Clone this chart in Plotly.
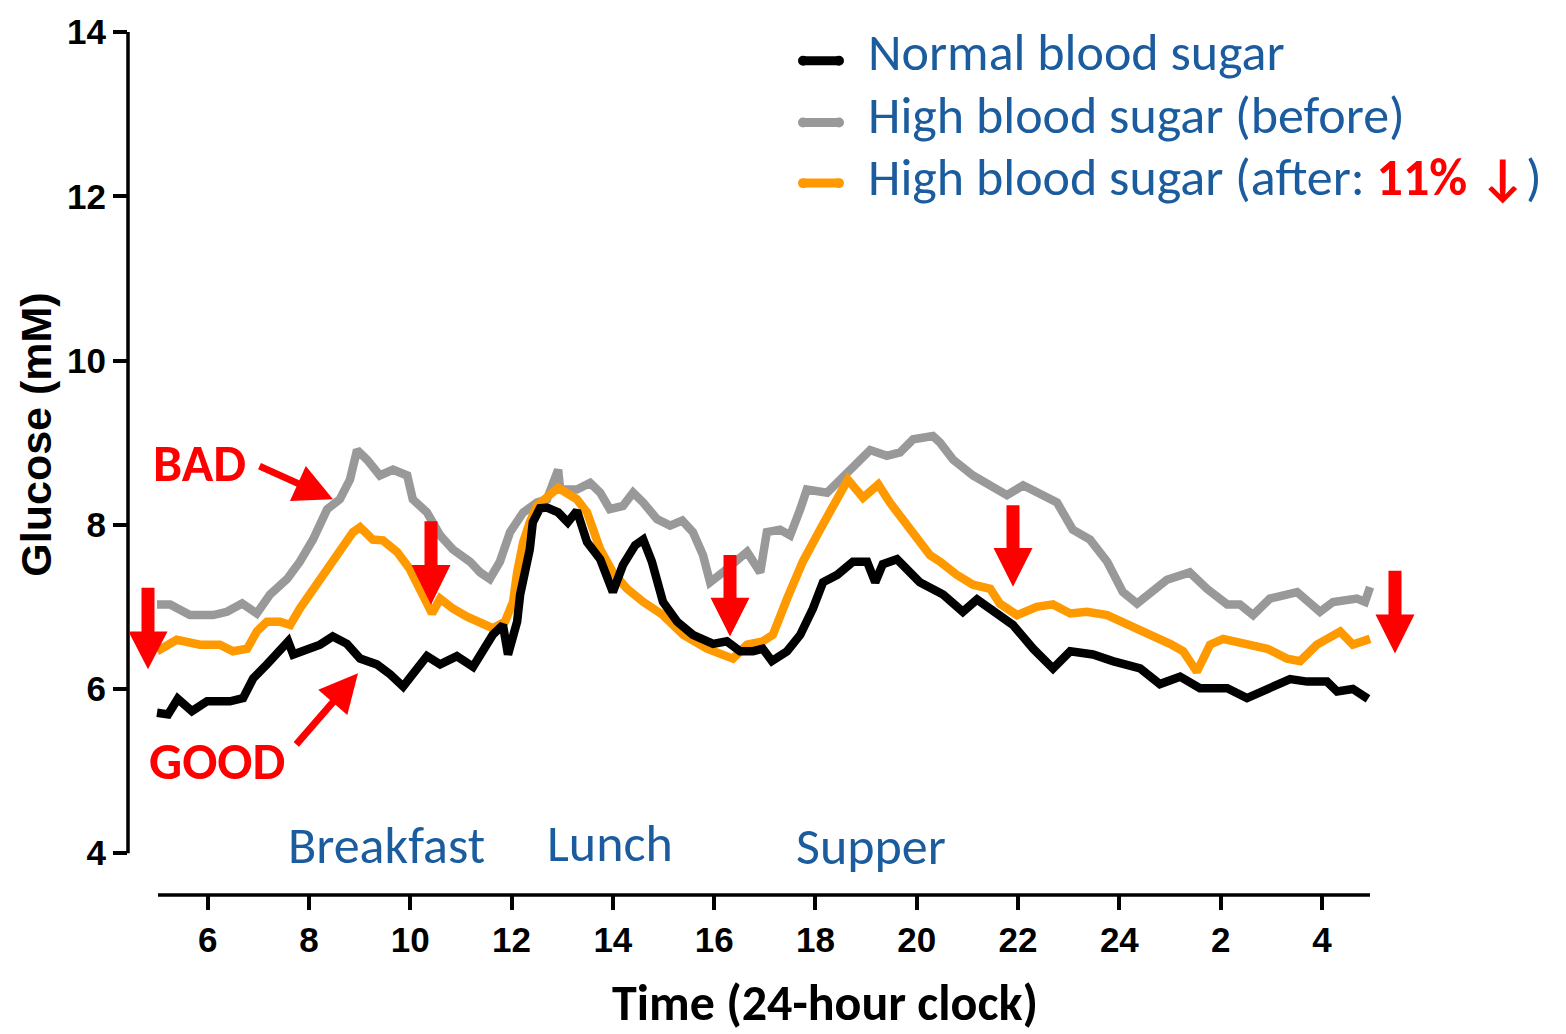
import plotly.graph_objects as go

# ---------------- data (hours since midnight; 24+ = next day) ----------------
time_normal = [5.00, 5.22, 5.41, 5.69, 5.99, 6.44, 6.70, 6.90, 7.17, 7.43, 7.59, 7.69, 7.96, 8.22,
               8.47, 8.75, 9.01, 9.34, 9.60, 9.86, 10.05, 10.33, 10.59, 10.92, 11.24, 11.44, 11.63,
               11.83, 11.93, 12.11, 12.17, 12.36, 12.42, 12.56, 12.70, 12.92, 13.11, 13.29, 13.49,
               13.75, 13.88, 14.00, 14.20, 14.44, 14.60, 14.77, 14.99, 15.27, 15.58, 15.98, 16.25,
               16.51, 16.77, 16.96, 17.14, 17.44, 17.70, 17.95, 18.15, 18.43, 18.74, 19.02, 19.18,
               19.33, 19.61, 19.93, 20.06, 20.52, 20.91, 21.19, 21.64, 21.90, 22.30, 22.69, 23.03,
               23.48, 23.87, 24.41, 24.80, 25.20, 25.59, 26.13, 26.52, 26.97, 27.37, 27.71, 28.10,
               28.30, 28.61, 28.91]
glucose_normal = [5.71, 5.69, 5.88, 5.73, 5.85, 5.85, 5.89, 6.13, 6.30, 6.46, 6.58, 6.42, 6.49, 6.54,
                  6.64, 6.55, 6.37, 6.30, 6.18, 6.03, 6.18, 6.40, 6.30, 6.40, 6.27, 6.46, 6.66,
                  6.78, 6.42, 6.82, 7.15, 7.70, 8.03, 8.20, 8.21, 8.15, 8.03, 8.17, 7.79,
                  7.58, 7.34, 7.18, 7.51, 7.75, 7.82, 7.55, 7.06, 6.82, 6.66, 6.55, 6.58,
                  6.46, 6.46, 6.49, 6.34, 6.46, 6.66, 6.98, 7.30, 7.39, 7.55, 7.55, 7.30,
                  7.52, 7.58, 7.39, 7.30, 7.15, 6.94, 7.09, 6.90, 6.78, 6.49, 6.25, 6.46,
                  6.42, 6.34, 6.25, 6.06, 6.15, 6.01, 6.01, 5.89, 6.01, 6.12, 6.09, 6.09,
                  5.97, 6.00, 5.88]

time_before = [5.00, 5.26, 5.65, 6.11, 6.38, 6.68, 6.97, 7.23, 7.57, 7.82, 8.08, 8.36, 8.61, 8.81,
               8.95, 9.15, 9.40, 9.66, 9.94, 10.05, 10.33, 10.59, 10.84, 11.18, 11.38, 11.57, 11.77,
               11.97, 12.23, 12.50, 12.70, 12.92, 12.96, 13.29, 13.55, 13.75, 13.94, 14.20, 14.40,
               14.60, 14.87, 15.13, 15.37, 15.58, 15.78, 15.92, 16.17, 16.45, 16.65, 16.91, 17.04,
               17.30, 17.50, 17.70, 17.83, 18.23, 18.62, 19.08, 19.41, 19.67, 19.93, 20.20, 20.32,
               20.46, 20.72, 21.11, 21.45, 21.78, 22.10, 22.49, 22.77, 23.08, 23.42, 23.76, 24.07,
               24.35, 24.55, 24.94, 25.39, 25.73, 26.13, 26.38, 26.64, 26.97, 27.51, 27.96, 28.22,
               28.69, 28.85, 28.95]
glucose_before = [7.03, 7.03, 6.90, 6.90, 6.94, 7.04, 6.92, 7.15, 7.34, 7.55, 7.82, 8.19, 8.31, 8.55,
                  8.91, 8.79, 8.60, 8.67, 8.60, 8.31, 8.15, 7.87, 7.70, 7.55, 7.42, 7.34, 7.55,
                  7.91, 8.15, 8.27, 8.31, 8.67, 8.43, 8.43, 8.51, 8.39, 8.19, 8.23, 8.39,
                  8.27, 8.07, 7.99, 8.05, 7.91, 7.63, 7.30, 7.42, 7.55, 7.67, 7.42, 7.91,
                  7.94, 7.87, 8.19, 8.43, 8.39, 8.63, 8.91, 8.84, 8.88, 9.04, 9.08, 9.08,
                  9.00, 8.79, 8.60, 8.48, 8.36, 8.48, 8.36, 8.27, 7.94, 7.82, 7.55, 7.18,
                  7.04, 7.15, 7.33, 7.42, 7.22, 7.03, 7.03, 6.90, 7.10, 7.18, 6.94, 7.06,
                  7.10, 7.06, 7.24]

time_after = [5.00, 5.39, 5.85, 6.24, 6.50, 6.78, 6.97, 7.17, 7.43, 7.63, 7.82, 8.08, 8.36, 8.61,
              8.87, 9.01, 9.26, 9.46, 9.74, 9.99, 10.25, 10.43, 10.59, 10.84, 11.12, 11.38, 11.63,
              11.87, 12.03, 12.11, 12.23, 12.36, 12.50, 12.92, 13.29, 13.49, 13.75, 14.00, 14.28,
              14.60, 14.99, 15.39, 15.86, 16.37, 16.65, 16.96, 17.16, 17.44, 17.75, 18.09, 18.35,
              18.64, 18.94, 19.24, 19.47, 19.67, 20.00, 20.26, 20.46, 20.79, 21.11, 21.45, 21.64,
              21.98, 22.37, 22.69, 23.03, 23.36, 23.76, 24.15, 24.61, 25.00, 25.26, 25.53, 25.79,
              26.05, 26.52, 26.92, 27.31, 27.57, 27.90, 28.36, 28.61, 28.95]
glucose_after = [6.46, 6.60, 6.54, 6.54, 6.46, 6.49, 6.70, 6.82, 6.82, 6.78, 6.98, 7.22, 7.46, 7.70,
                 7.91, 7.97, 7.82, 7.81, 7.67, 7.46, 7.15, 6.92, 7.10, 6.98, 6.88, 6.80, 6.74,
                 6.82, 7.06, 7.42, 7.79, 8.03, 8.23, 8.45, 8.31, 8.15, 7.70, 7.42, 7.22,
                 7.06, 6.90, 6.66, 6.49, 6.37, 6.54, 6.58, 6.66, 7.10, 7.55, 7.94, 8.23,
                 8.55, 8.33, 8.49, 8.27, 8.11, 7.82, 7.63, 7.55, 7.39, 7.27, 7.22, 7.04,
                 6.90, 7.00, 7.03, 6.92, 6.94, 6.90, 6.78, 6.66, 6.55, 6.46, 6.21, 6.54,
                 6.61, 6.55, 6.49, 6.37, 6.34, 6.54, 6.70, 6.54, 6.61]

series_names = ["Normal blood sugar", "High blood sugar (before)", "High blood sugar (after: 11% ↓)"]
x_tickvals = [6, 8, 10, 12, 14, 16, 18, 20, 22, 24, 26, 28]
x_ticktext = ["6", "8", "10", "12", "14", "16", "18", "20", "22", "24", "2", "4"]
y_tickvals = [4, 6, 8, 10, 12, 14]
meal_labels = ["Breakfast", "Lunch", "Supper"]

# ---------------- layout geometry ----------------
W, H = 1566, 1034
L, R, T, B = 128, 136, 27, 139
PX_PER_H = 50.65
PX_PER_MM = 82.6
X0 = 5 - 29 / PX_PER_H
X1 = X0 + (W - L - R) / PX_PER_H
Y1 = 14.0
Y0 = Y1 - (H - T - B) / PX_PER_MM


def gx(p):  # page pixel -> x data
    return X0 + (p - L) / PX_PER_H


def gy(p):  # page pixel -> y data
    return Y1 - (p - T) / PX_PER_MM


def px_paper(p):
    return (p - L) / (W - L - R)


def py_paper(p):
    return (H - B - p) / (H - T - B)


BLACK = "#000000"
GRAY = "#999999"
ORANGE = "#FF9900"
RED = "#FF0000"
BLUE = "#1B5C9E"
CAL = "Carlito, Lato, 'Open Sans', sans-serif"
ARIAL = "'Liberation Sans', Arial, sans-serif"
TXT = 52

fig = go.Figure()
for xs, ys, c, n in [(time_before, glucose_before, GRAY, series_names[1]),
                     (time_after, glucose_after, ORANGE, series_names[2]),
                     (time_normal, glucose_normal, BLACK, series_names[0])]:
    fig.add_trace(go.Scatter(x=xs, y=ys, mode="lines", name=n, showlegend=False,
                             line=dict(color=c, width=8.5, shape="linear"),
                             hoverinfo="x+y"))

shapes = []
# y axis line (4 -> 14)
shapes.append(dict(type="line", xref="paper", yref="y", x0=0, x1=0, y0=4, y1=14,
                   line=dict(color="black", width=3.5)))
# x axis line
shapes.append(dict(type="line", xref="x", yref="paper", x0=gx(158), x1=gx(1370), y0=0, y1=0,
                   line=dict(color="black", width=3.5)))


def block_arrow(cx, top, head_top, tip, half_shaft=6.5, half_head=19.5):
    pts = [(cx - half_shaft, top), (cx + half_shaft, top), (cx + half_shaft, head_top),
           (cx + half_head, head_top), (cx, tip), (cx - half_head, head_top),
           (cx - half_shaft, head_top)]
    d = "M " + " L ".join(f"{gx(a):.4f},{gy(b):.4f}" for a, b in pts) + " Z"
    return dict(type="path", xref="x", yref="y", path=d, fillcolor=RED,
                line=dict(width=0), layer="above")


for a in [(148, 586, 630, 668), (431, 519, 563, 603), (730, 553, 596, 635),
          (1013, 503, 546, 585), (1395, 569, 613, 652)]:
    shapes.append(block_arrow(*a))

# legend keys
for yk, c in [(56, BLACK), (118, GRAY), (179, ORANGE)]:
    shapes.append(dict(type="line", xref="paper", yref="paper", x0=px_paper(803), x1=px_paper(839),
                       y0=py_paper(yk), y1=py_paper(yk), line=dict(color=c, width=9)))
    for xd in (803, 839):
        shapes.append(dict(type="circle", xref="paper", yref="paper",
                           x0=px_paper(xd - 5), x1=px_paper(xd + 5),
                           y0=py_paper(yk + 5), y1=py_paper(yk - 5),
                           fillcolor=c, line=dict(width=0)))

ann = []
# legend texts
legend_text = [series_names[0], series_names[1],
               "High blood sugar (after: <span style='color:#FF0000'><b>11% ↓</b></span>)"]
for t, yk in zip(legend_text, [47, 110, 173]):
    ann.append(dict(text=t, xref="paper", yref="paper", x=px_paper(866), y=py_paper(yk),
                    xanchor="left", yanchor="middle", showarrow=False,
                    font=dict(family=CAL, size=TXT, color=BLUE)))
# meal labels
for t, xc, yc in zip(meal_labels, [386, 610, 871], [845, 843, 846]):
    ann.append(dict(text=t, xref="paper", yref="paper", x=px_paper(xc), y=py_paper(yc),
                    xanchor="center", yanchor="middle", showarrow=False,
                    font=dict(family=CAL, size=TXT, color=BLUE)))
# BAD / GOOD
ann.append(dict(text="<b>BAD</b>", xref="paper", yref="paper", x=px_paper(199), y=py_paper(460),
                xanchor="center", yanchor="middle", showarrow=False,
                font=dict(family=CAL, size=TXT, color=RED)))
ann.append(dict(text="<b>GOOD</b>", xref="paper", yref="paper", x=px_paper(217), y=py_paper(760),
                xanchor="center", yanchor="middle", showarrow=False,
                font=dict(family=CAL, size=TXT, color=RED)))
ann.append(dict(text="", x=gx(333), y=gy(497), ax=gx(258), ay=gy(463), xref="x", yref="y",
                axref="x", ayref="y", showarrow=True, arrowhead=2, arrowsize=1.1,
                arrowwidth=7, arrowcolor=RED))
ann.append(dict(text="", x=gx(358), y=gy(672), ax=gx(295), ay=gy(745), xref="x", yref="y",
                axref="x", ayref="y", showarrow=True, arrowhead=2, arrowsize=1.1,
                arrowwidth=7, arrowcolor=RED))
# axis titles
ann.append(dict(text="<b>Time (24-hour clock)</b>", xref="paper", yref="paper",
                x=px_paper(825), y=py_paper(1003), xanchor="center", yanchor="middle",
                showarrow=False, font=dict(family=CAL, size=50, color="black")))
ann.append(dict(text="<b>Glucose (mM)</b>", xref="paper", yref="paper",
                x=px_paper(36), y=py_paper(432), xanchor="center", yanchor="middle",
                textangle=-90, showarrow=False, font=dict(family=ARIAL, size=43, color="black")))

fig.update_layout(
    width=W, height=H, margin=dict(l=L, r=R, t=T, b=B, pad=0),
    paper_bgcolor="white", plot_bgcolor="white",
    shapes=shapes, annotations=ann, showlegend=False,
    xaxis=dict(range=[X0, X1], tickvals=x_tickvals, ticktext=x_ticktext, ticks="outside",
               ticklen=14, tickwidth=3.5, tickcolor="black", showline=False, showgrid=False,
               zeroline=False, tickfont=dict(family=ARIAL, size=35, color="black", weight="bold")),
    yaxis=dict(range=[Y0, Y1], tickvals=y_tickvals, ticks="outside", ticklen=14, tickwidth=3.5,
               tickcolor="black", showline=False, showgrid=False, zeroline=False,
               tickfont=dict(family=ARIAL, size=35, color="black", weight="bold")),
)

fig.write_html("out.html", config={"displayModeBar": False},
               post_script="document.body.style.margin='0px';")
